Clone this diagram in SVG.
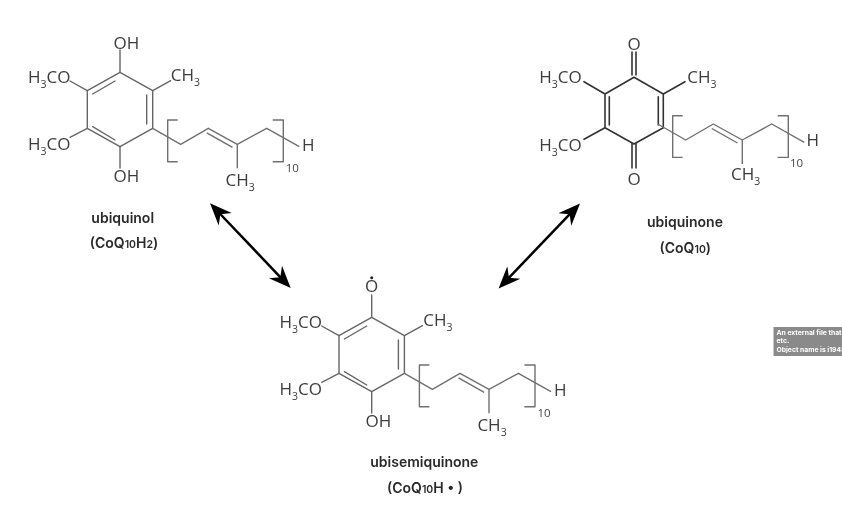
<svg xmlns="http://www.w3.org/2000/svg" xmlns:xlink="http://www.w3.org/1999/xlink" width="842" height="515" viewBox="0 0 842 515">
<style>
.bg{fill:#fff}
.m{filter:url(#soft)}
.b{fill:none;stroke:#666;stroke-width:1.4;stroke-linecap:round;stroke-linejoin:round}
.d{stroke:#333;stroke-width:1.6}
.c{fill:none;stroke:#707070;stroke-width:1.4;stroke-linejoin:round}
.t{font-family:"Open Sans","Noto Sans",sans-serif;font-size:17px;fill:#3c3c3c}
.n{font-family:"Open Sans","Noto Sans",sans-serif;font-size:11.5px;fill:#444}
.l{font-family:Inter,"Liberation Sans",sans-serif;font-size:14px;font-weight:600;fill:#2a2a2a;text-anchor:middle}
.s{font-size:10.5px}
.a{fill:none;stroke:#000;stroke-width:2.5}
.box{fill:#8a8a8a}
.w{font-family:Inter,"Liberation Sans",sans-serif;font-size:6.8px;font-weight:700;fill:#fff}
</style>
<defs>
<filter id="soft" filterUnits="userSpaceOnUse" x="0" y="0" width="842" height="515"><feGaussianBlur stdDeviation="0.35"/></filter>
<g id="chain">
<path class="c" d="M152.7 128.3L180.7 144.3L208.3 128.3L237.3 144.3L266.7 128.3L299.3 146.7"/>
<path class="c" d="M206.8 132.8L232.5 147.3M237.3 144.3V168.3"/>
<path class="c" d="M177.7 120H167.7V161.7H177.7M272.7 120H283.3V161.7H272.7"/>
</g>
<marker id="head" markerUnits="userSpaceOnUse" markerWidth="24" markerHeight="20" refX="10" refY="10" orient="auto-start-reverse" viewBox="0 0 24 20">
<path d="M22 10L0 1L7 10L0 19Z" fill="#000"/>
</marker>
</defs>
<rect class="bg" width="842" height="515"/>
<g id="connectors" class="m">
<line class="a" x1="218.3" y1="212" x2="282.4" y2="279.3" marker-start="url(#head)" marker-end="url(#head)"/>
<line class="a" x1="571.7" y1="212.2" x2="506.9" y2="279.8" marker-start="url(#head)" marker-end="url(#head)"/>
</g>
<g id="ubiquinol" class="m">
<path class="b" d="M120 72.3L152.7 90.7V128.3L120 146.7L87.3 128.3V90.7Z"/>
<path class="b" d="M92.7 94L115 81M146.7 95V124M92.7 126.7L115 140M120 72.3V50M120 146.7V168M87.3 90.7L70 81M87.3 128.3L70 137.3M152.7 90.7L170.7 80.7"/>
<use xlink:href="#chain" href="#chain"/>
<text class="t" x="113.5" y="48.5">OH</text>
<text class="t" x="113.5" y="181.7">OH</text>
<text class="t" x="28" y="83">H<tspan class="s" dy="5">3</tspan><tspan dy="-5">CO</tspan></text>
<text class="t" x="28" y="150">H<tspan class="s" dy="5">3</tspan><tspan dy="-5">CO</tspan></text>
<text class="t" x="170.7" y="80.7">CH<tspan class="s" dy="5">3</tspan></text>
<text class="t" x="302" y="150.7">H</text>
<text class="t" x="225.5" y="186">CH<tspan class="s" dy="5">3</tspan></text>
<text class="n" x="285.7" y="172">10</text>
<text class="l" x="122.7" y="223.3">ubiquinol</text>
<text class="l" x="124" y="248.3">(CoQ<tspan class="s">10</tspan>H<tspan class="s">2</tspan>)</text>
</g>
<g id="ubiquinone" class="m">
<path class="b d" d="M634 77.3L663.3 94V127.7L634 144L605 127.7V94ZM609.3 96.7V125M658.3 96.7V125M632 75V52M636 75V52M632 143.5V168M636 143.5V168M605 94L584 81.7M605 127.7L584 139.3M663.3 94L685 81.7"/>
<use xlink:href="#chain" href="#chain" transform="translate(505 -4.3)"/>
<text class="t" x="634" y="49.5" text-anchor="middle">O</text>
<text class="t" x="634" y="184.5" text-anchor="middle">O</text>
<text class="t" x="539.3" y="83.3">H<tspan class="s" dy="5">3</tspan><tspan dy="-5">CO</tspan></text>
<text class="t" x="539.3" y="150.7">H<tspan class="s" dy="5">3</tspan><tspan dy="-5">CO</tspan></text>
<text class="t" x="687.3" y="83.3">CH<tspan class="s" dy="5">3</tspan></text>
<text class="t" x="806.5" y="145.7">H</text>
<text class="t" x="731" y="180">CH<tspan class="s" dy="5">3</tspan></text>
<text class="n" x="790" y="167.3">10</text>
<text class="l" x="685" y="226.7">ubiquinone</text>
<text class="l" x="685.3" y="253.3">(CoQ<tspan class="s">10</tspan>)</text>
</g>
<g id="ubisemiquinone" class="m">
<g transform="translate(251.7 245)">
<path class="b" d="M120 72.3L152.7 90.7V128.3L120 146.7L87.3 128.3V90.7Z"/>
<path class="b" d="M92.7 94L115 81M146.7 95V124M92.7 126.7L115 140M120 72.3V50M120 146.7V168M87.3 90.7L70 81M87.3 128.3L70 137.3M152.7 90.7L170.7 80.7"/>
<use xlink:href="#chain" href="#chain"/>
</g>
<text class="t" x="371.7" y="292" text-anchor="middle">O</text>
<circle cx="371.7" cy="277.7" r="1.5" fill="#222"/>
<text class="t" x="365.5" y="426.7">OH</text>
<text class="t" x="279.5" y="328">H<tspan class="s" dy="5">3</tspan><tspan dy="-5">CO</tspan></text>
<text class="t" x="279.5" y="395">H<tspan class="s" dy="5">3</tspan><tspan dy="-5">CO</tspan></text>
<text class="t" x="423.3" y="325.7">CH<tspan class="s" dy="5">3</tspan></text>
<text class="t" x="554" y="395.7">H</text>
<text class="t" x="477.4" y="431">CH<tspan class="s" dy="5">3</tspan></text>
<text class="n" x="537.4" y="417">10</text>
<text class="l" x="424.3" y="466.7">ubisemiquinone</text>
<text class="l" x="425" y="493">(CoQ<tspan class="s">10</tspan>H • )</text>
</g>
<g id="note" class="m">
<rect class="box" x="773.5" y="327" width="68.5" height="29"/>
<text class="w" x="776.5" y="334.5">An external file that</text>
<text class="w" x="776.5" y="343">etc.</text>
<text class="w" x="776.5" y="351.5">Object name is i1943</text>
</g>
</svg>
